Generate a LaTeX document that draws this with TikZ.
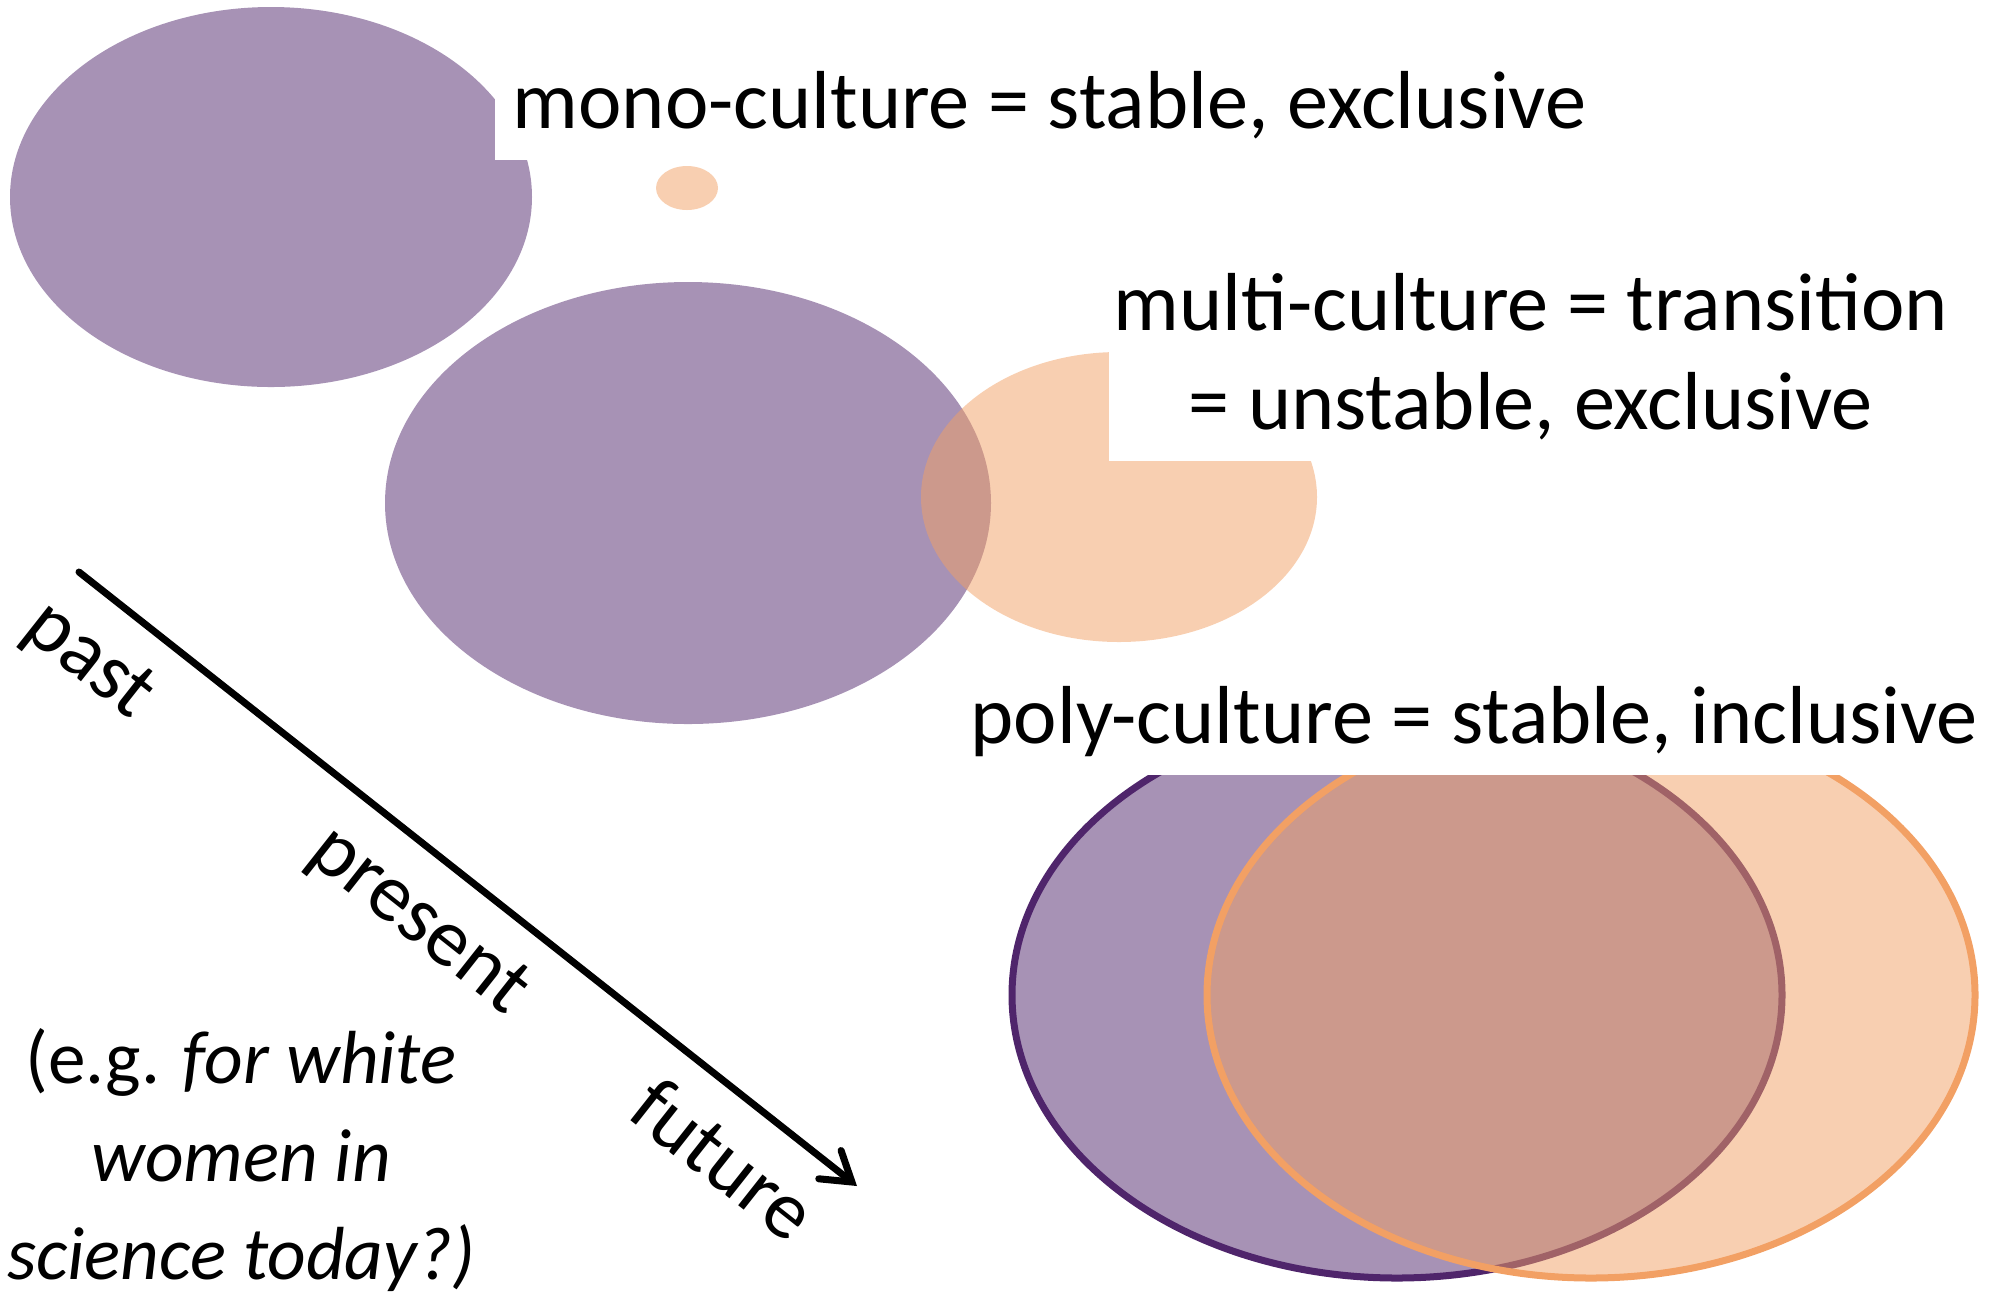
\documentclass[tikz,border=0pt]{standalone}
\usepackage{fontspec}
\setmainfont{Carlito}
\usetikzlibrary{arrows.meta,positioning}
\definecolor{purp}{HTML}{4F256B}
\definecolor{peach}{HTML}{F2A064}

\tikzset{
  purpfill/.style={fill=purp, fill opacity=0.5},
  peachfill/.style={fill=peach, fill opacity=0.5},
  labelbox/.style={fill=white, anchor=south west, inner ysep=0.32cm, text depth=0pt,
    align=center, font=\fontsize{23.4}{28.2}\selectfont},
  timelabel/.style={rotate=-38.3, font=\fontsize{23.4}{28.2}\selectfont}
}

\begin{document}
\begin{tikzpicture}[x=0.01cm, y=-0.01cm]
\useasboundingbox (0,0) rectangle (1994,1293);
% mono-culture
\fill[purpfill] (271,197) ellipse [x radius=261, y radius=190];
\fill[peachfill] (687,188) ellipse [x radius=31, y radius=22];
\node[labelbox, inner xsep=0.18cm] (mono) at (494,161) {mono-culture = stable, exclusive};
% multi-culture
\fill[purpfill] (688,503) ellipse [x radius=303, y radius=221];
\fill[peachfill] (1119,497) ellipse [x radius=198, y radius=145];
\node[labelbox, inner xsep=0.05cm] (multi) at (1108,462) {multi-culture = transition\\= unstable, exclusive};
% poly-culture
\filldraw[purpfill, draw=purp, line width=0.07cm] (1397,995) ellipse [x radius=385, y radius=283];
\filldraw[peachfill, draw=peach, line width=0.07cm] (1591,995) ellipse [x radius=384, y radius=283];
\node[labelbox, inner xsep=0.18cm] (poly) at (952,776) {poly-culture = stable, inclusive};
% time axis
\coordinate (tstart) at (79,572);
\coordinate (tend) at (857,1186);
\draw[line width=0.07cm, line cap=round, -{Straight Barb[length=0.28cm, width=0.36cm, line cap=round]}] (tstart) -- (tend);
\node[timelabel] (past) at (88,662) {past};
\node[timelabel] (present) at (418,922) {present};
\node[timelabel] (future) at (724,1159) {future};
\node[align=center, font=\fontsize{21.4}{27.9}\selectfont] (eg) at (241,1160)
  {(e.g. \textit{for white}\\\textit{women in}\\\textit{science today?)}};
\end{tikzpicture}
\end{document}
